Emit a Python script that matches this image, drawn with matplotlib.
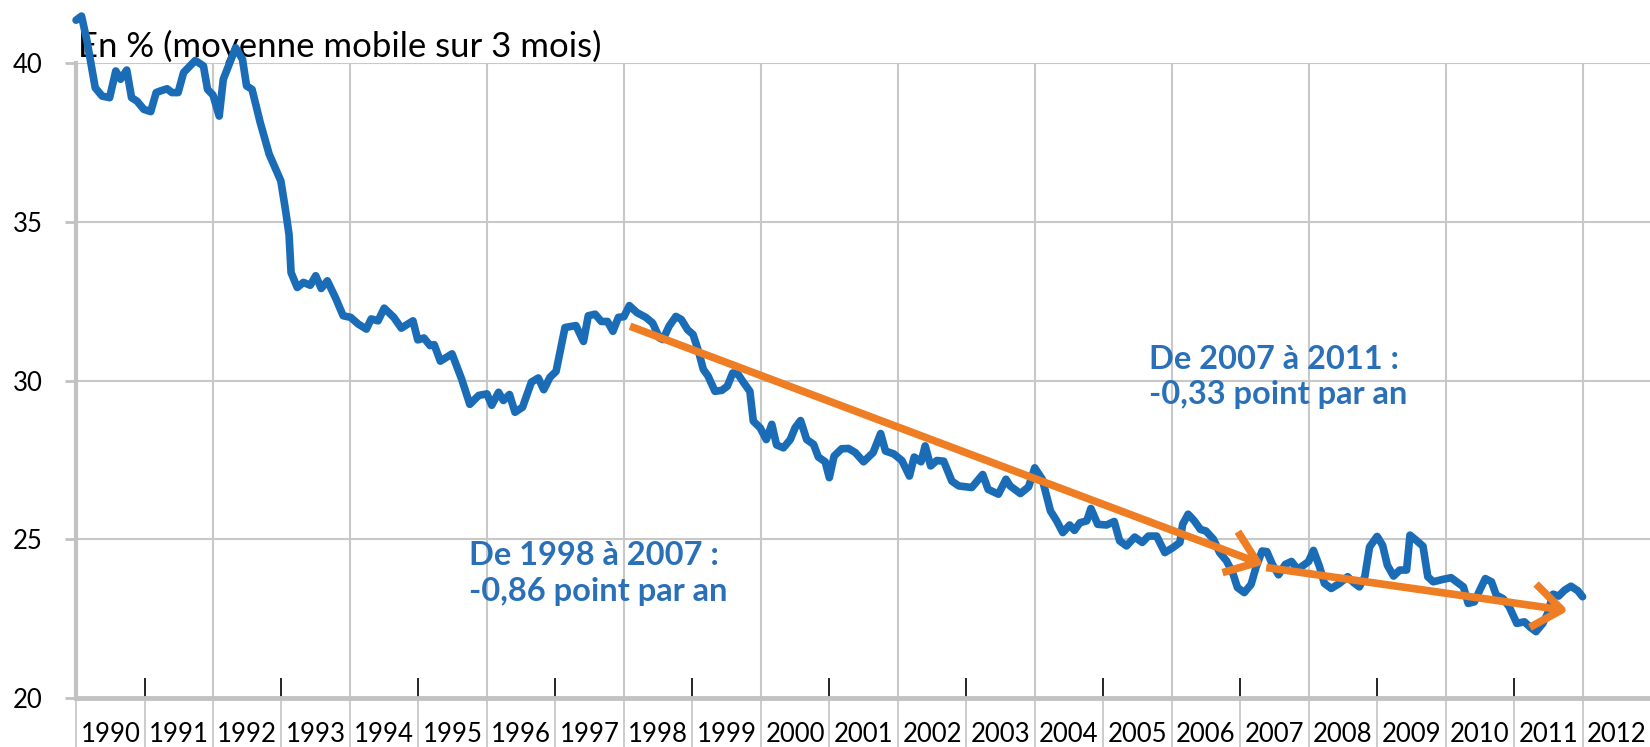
import matplotlib.pyplot as plt
import numpy as np

# police proche de l'original (Avenir)
plt.rcParams['font.family'] = ['Lato', 'DejaVu Sans']

# série (moyenne mobile sur 3 mois, en %)
dates = [
    1990.00, 1990.08, 1990.16, 1990.28, 1990.38, 1990.49, 1990.58, 1990.65, 1990.74, 1990.81,
    1990.89, 1990.99, 1991.09, 1991.17, 1991.23, 1991.33, 1991.40, 1991.49, 1991.57, 1991.74,
    1991.86, 1991.92, 1992.00, 1992.09, 1992.15, 1992.33, 1992.43, 1992.49, 1992.57, 1992.69,
    1992.82, 1992.99, 1993.06, 1993.11, 1993.14, 1993.23, 1993.32, 1993.42, 1993.50, 1993.58,
    1993.67, 1993.79, 1993.90, 1994.01, 1994.12, 1994.24, 1994.31, 1994.41, 1994.50, 1994.64,
    1994.75, 1994.92, 1994.99, 1995.08, 1995.17, 1995.23, 1995.32, 1995.49, 1995.63, 1995.75,
    1995.88, 1996.00, 1996.07, 1996.17, 1996.24, 1996.33, 1996.41, 1996.52, 1996.65, 1996.75,
    1996.83, 1996.92, 1997.01, 1997.14, 1997.30, 1997.41, 1997.48, 1997.58, 1997.67, 1997.76,
    1997.84, 1997.92, 1998.00, 1998.08, 1998.19, 1998.32, 1998.42, 1998.52, 1998.57, 1998.66,
    1998.76, 1998.84, 1998.93, 1999.01, 1999.09, 1999.16, 1999.23, 1999.33, 1999.43, 1999.51,
    1999.59, 1999.67, 1999.75, 1999.84, 1999.89, 1999.99, 2000.08, 2000.16, 2000.23, 2000.33,
    2000.43, 2000.50, 2000.58, 2000.67, 2000.77, 2000.84, 2000.94, 2001.00, 2001.07, 2001.18,
    2001.28, 2001.38, 2001.50, 2001.64, 2001.75, 2001.82, 2001.94, 2002.06, 2002.17, 2002.24,
    2002.34, 2002.40, 2002.48, 2002.57, 2002.67, 2002.79, 2002.89, 2003.08, 2003.24, 2003.32,
    2003.47, 2003.58, 2003.64, 2003.79, 2003.91, 2004.00, 2004.11, 2004.23, 2004.32, 2004.41,
    2004.51, 2004.58, 2004.66, 2004.76, 2004.82, 2004.92, 2005.05, 2005.16, 2005.24, 2005.34,
    2005.46, 2005.57, 2005.66, 2005.78, 2005.90, 2006.02, 2006.12, 2006.16, 2006.24, 2006.33,
    2006.42, 2006.50, 2006.61, 2006.70, 2006.80, 2006.89, 2006.96, 2007.06, 2007.16, 2007.23,
    2007.32, 2007.39, 2007.47, 2007.56, 2007.66, 2007.75, 2007.84, 2007.91, 2008.00, 2008.07,
    2008.16, 2008.23, 2008.33, 2008.45, 2008.57, 2008.66, 2008.74, 2008.82, 2008.89, 2009.00,
    2009.08, 2009.15, 2009.24, 2009.33, 2009.43, 2009.48, 2009.57, 2009.67, 2009.74, 2009.82,
    2009.95, 2010.08, 2010.18, 2010.26, 2010.33, 2010.42, 2010.50, 2010.58, 2010.67, 2010.74,
    2010.84, 2010.93, 2011.04, 2011.15, 2011.23, 2011.32, 2011.42, 2011.49, 2011.57, 2011.65,
    2011.74, 2011.83, 2011.93, 2012.00,
]
taux = [
    41.35, 41.48, 40.69, 39.22, 38.96, 38.91, 39.75, 39.49, 39.78, 38.91,
    38.80, 38.54, 38.47, 39.07, 39.12, 39.19, 39.07, 39.07, 39.70, 40.08,
    39.91, 39.17, 38.99, 38.33, 39.49, 40.48, 40.12, 39.28, 39.17, 38.12,
    37.13, 36.29, 35.35, 34.60, 33.40, 32.93, 33.09, 33.00, 33.30, 32.90,
    33.14, 32.60, 32.04, 31.99, 31.78, 31.62, 31.94, 31.88, 32.28, 31.99,
    31.65, 31.88, 31.28, 31.34, 31.10, 31.13, 30.61, 30.84, 30.05, 29.25,
    29.53, 29.58, 29.22, 29.63, 29.37, 29.56, 29.00, 29.16, 29.95, 30.08,
    29.71, 30.10, 30.29, 31.67, 31.73, 31.23, 32.04, 32.09, 31.86, 31.86,
    31.55, 31.99, 32.01, 32.36, 32.14, 31.99, 31.81, 31.34, 31.29, 31.71,
    32.02, 31.92, 31.60, 31.45, 30.92, 30.35, 30.14, 29.66, 29.69, 29.82,
    30.24, 30.19, 29.93, 29.66, 28.72, 28.51, 28.14, 28.62, 27.97, 27.88,
    28.14, 28.51, 28.74, 28.14, 27.99, 27.59, 27.44, 26.94, 27.62, 27.85,
    27.86, 27.73, 27.44, 27.73, 28.33, 27.78, 27.69, 27.48, 26.99, 27.59,
    27.44, 27.94, 27.31, 27.48, 27.46, 26.83, 26.68, 26.63, 27.04, 26.57,
    26.42, 26.89, 26.68, 26.44, 26.65, 27.25, 26.89, 25.89, 25.58, 25.21,
    25.45, 25.28, 25.52, 25.58, 25.97, 25.47, 25.45, 25.56, 24.95, 24.79,
    25.07, 24.90, 25.10, 25.10, 24.58, 24.74, 24.90, 25.47, 25.79, 25.58,
    25.31, 25.26, 25.00, 24.58, 24.32, 23.95, 23.48, 23.32, 23.58, 24.11,
    24.63, 24.61, 24.21, 23.88, 24.21, 24.30, 24.05, 24.16, 24.30, 24.65,
    24.13, 23.61, 23.45, 23.61, 23.82, 23.63, 23.50, 23.82, 24.76, 25.09,
    24.81, 24.18, 23.84, 24.03, 24.03, 25.13, 24.97, 24.78, 23.82, 23.66,
    23.73, 23.79, 23.63, 23.50, 22.98, 23.03, 23.40, 23.76, 23.66, 23.24,
    23.13, 22.87, 22.35, 22.40, 22.24, 22.09, 22.35, 22.66, 23.27, 23.21,
    23.40, 23.52, 23.38, 23.19,
]

annees = list(range(1990, 2013))
y_ticks = [20, 25, 30, 35, 40]

# tendances (début, fin) et textes
tendance_1 = [(1998.09, 31.71), (2007.34, 24.20)]
tendance_2 = [(2007.38, 24.11), (2011.79, 22.75)]
texte_1 = "De 1998 à 2007 :\n-0,86 point par an"
texte_2 = "De 2007 à 2011 :\n-0,33 point par an"

bleu = '#1a6cb7'
orange = '#ee7d23'
gris = '#c2c2c2'

fig = plt.figure(figsize=(16.5, 7.47), dpi=100)
ax = fig.add_axes([0.0461, 0.0656, 0.9539, 0.850])

ax.plot(dates, taux, color=bleu, lw=5.5, solid_joinstyle='round',
        solid_capstyle='round', clip_on=False, zorder=3)

ax.set_xlim(1990, 2012.985)
ax.set_ylim(20, 40)

# grille : années paires en gris, petites marques noires aux années impaires
ax.set_xticks([a for a in annees if a % 2 == 0])
ax.set_xticks([a for a in annees if a % 2 == 1], minor=True)
ax.set_xticklabels([])
ax.tick_params(axis='x', which='major', length=0)
ax.tick_params(axis='x', which='minor', direction='in', length=14.5,
               width=1.2, color='black')
ax.set_yticks(y_ticks)
ax.set_yticklabels([str(v) for v in y_ticks], fontsize=18.5)
ax.tick_params(axis='y', length=8, width=2, color=gris, pad=16)
ax.grid(True, which='major', color='#c8c8c8', lw=1.5, zorder=0)
ax.set_axisbelow(True)

for s in ['top', 'right']:
    ax.spines[s].set_visible(False)
ax.spines['left'].set_color(gris)
ax.spines['left'].set_linewidth(3)
ax.spines['bottom'].set_color(gris)
ax.spines['bottom'].set_linewidth(3.5)

# séparateurs et libellés des années sous l'axe
trans = ax.get_xaxis_transform()
ax.vlines(annees, -0.1, 0, transform=trans, color='#c8c8c8', lw=1.3, clip_on=False)
for a in annees:
    ax.text(a + 0.5, -0.057, str(a), transform=trans, ha='center', va='center',
            fontsize=18.5, clip_on=False)

ax.text(0.001, 1.0094, "En % (moyenne mobile sur 3 mois)", transform=ax.transAxes,
        fontsize=25, va='baseline', ha='left', zorder=1)

# flèches de tendance
for (x0, y0), (x1, y1) in [tendance_1, tendance_2]:
    ax.annotate('', xy=(x1, y1), xytext=(x0, y0),
                arrowprops=dict(arrowstyle='->,head_length=0.6,head_width=0.45',
                                color=orange, lw=5.5, mutation_scale=35,
                                shrinkA=0, shrinkB=0, capstyle='butt'),
                zorder=4)

# la ligne de base donnée est celle de la dernière ligne du texte
ax.text(1995.74, 23.06, texte_1, color='#2a70b8', fontsize=23.5, fontweight='bold',
        va='baseline', ha='left', linespacing=1.28)
ax.text(2005.67, 29.25, texte_2, color='#2a70b8', fontsize=23.5, fontweight='bold',
        va='baseline', ha='left', linespacing=1.28)

plt.savefig('out.png', dpi=100)
